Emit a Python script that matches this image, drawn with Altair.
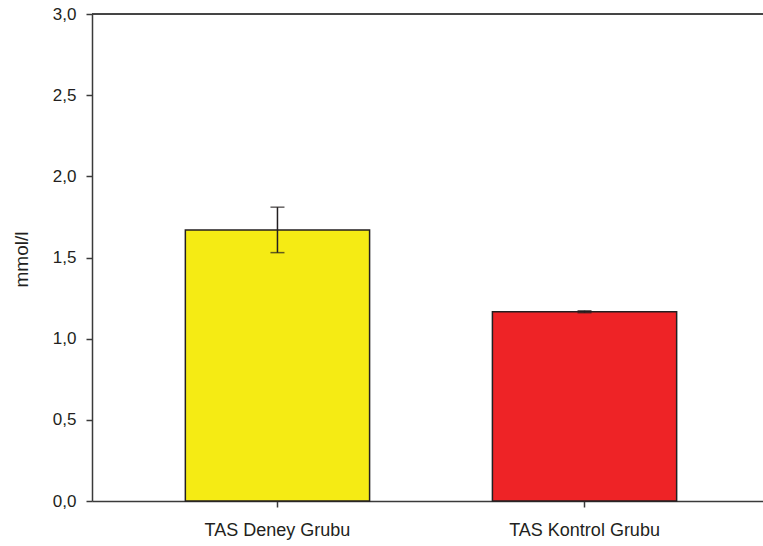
import altair as alt
import pandas as pd

groups = ["TAS Deney Grubu", "TAS Kontrol Grubu"]
means = [1.67, 1.166]
errs = [0.14, 0.006]
colors = ["#F5EB14", "#EE2326"]
y_ticks = [0.0, 0.5, 1.0, 1.5, 2.0, 2.5, 3.0]

df = pd.DataFrame({
    "group": groups,
    "mean": means,
    "lo": [m - e for m, e in zip(means, errs)],
    "hi": [m + e for m, e in zip(means, errs)],
})

W, H = 671, 487
FONT = "Arial"
AX = "#3a3a3a"
TXT = "#231F20"

x_enc = alt.X(
    "group:N",
    sort=groups,
    scale=alt.Scale(range=[0, 678], paddingInner=0.4, paddingOuter=0.304),
    axis=alt.Axis(
        title=None, labelAngle=0, labelFont=FONT, labelFontSize=18, labelColor=TXT,
        labelPadding=14, tickSize=6, tickColor=AX, tickWidth=1.5,
        domainColor=AX, domainWidth=1.5, labelLimit=400,
    ),
)
y_scale = alt.Scale(domain=[0, 3], nice=False)

bars = alt.Chart(df).mark_bar(stroke=TXT, strokeWidth=1.5).encode(
    x=x_enc,
    y=alt.Y(
        "mean:Q",
        scale=y_scale,
        axis=alt.Axis(
            values=y_ticks, grid=False,
            labelExpr="replace(format(datum.value, '.1f'), '.', ',')",
            labelFont=FONT, labelFontSize=17, labelColor=TXT, labelPadding=10,
            tickSize=6, tickColor=AX, tickWidth=1.5, domainColor=AX, domainWidth=1.5,
            title="mmol/l", titleFont=FONT, titleFontSize=19, titleFontWeight="normal",
            titleColor=TXT, titleAngle=-90, titleX=-65, titleY=245,
            titleAlign="center", titleBaseline="alphabetic",
        ),
    ),
    color=alt.Color("group:N", scale=alt.Scale(domain=groups, range=colors), legend=None),
)

err_line = alt.Chart(df).mark_rule(color=TXT, strokeWidth=1.5).encode(
    x=alt.X("group:N", sort=groups),
    y=alt.Y("lo:Q", scale=y_scale),
    y2="hi:Q",
)
cap_hi = alt.Chart(df).mark_tick(color=TXT, size=14, thickness=1.5).encode(
    x=alt.X("group:N", sort=groups),
    y=alt.Y("hi:Q", scale=y_scale),
)
cap_lo = alt.Chart(df).mark_tick(color=TXT, size=14, thickness=1.5).encode(
    x=alt.X("group:N", sort=groups),
    y=alt.Y("lo:Q", scale=y_scale),
)
top_line = alt.Chart(df).mark_rule(color=AX, strokeWidth=1.5).encode(
    x=alt.value(0), x2=alt.value(W), y=alt.value(0)
)

chart = alt.layer(bars, err_line, cap_hi, cap_lo, top_line).properties(
    width=W, height=H,
    autosize=alt.AutoSizeParams(type="none"),
    padding={"left": 92, "top": 14, "right": 0, "bottom": 45},
).configure_view(stroke=None).configure(background="white")

chart.save("out.html", embed_options={"renderer": "svg", "actions": False})
